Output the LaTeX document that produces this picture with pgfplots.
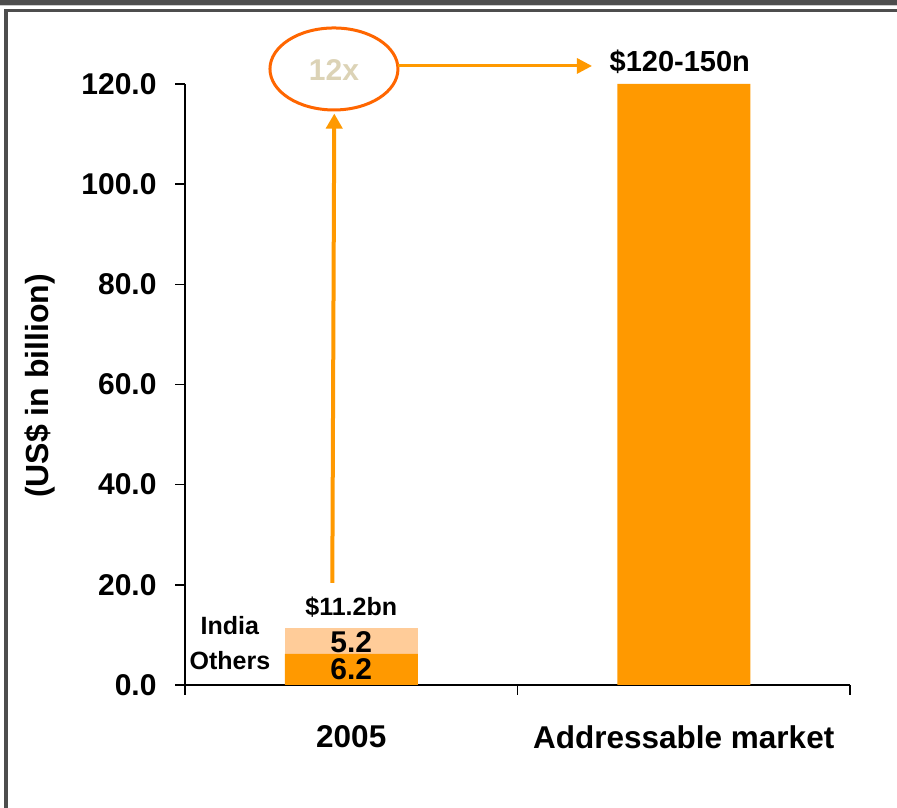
\documentclass[border=0pt]{standalone}
\usepackage{pgfplots}
\pgfplotsset{compat=1.18}
\usepackage{fontspec}
\setmainfont{Liberation Sans}
\usetikzlibrary{arrows.meta}
\definecolor{dkor}{HTML}{FF9900}
\definecolor{ltor}{HTML}{FFCC99}
\definecolor{ellor}{HTML}{FF6600}
\definecolor{tancol}{HTML}{DCD3B6}
\definecolor{framecol}{HTML}{4D4D4D}
\newcommand\fs[1]{\fontsize{#1}{#1}\selectfont\bfseries}
\begin{document}
\begin{tikzpicture}
\useasboundingbox (0,0) rectangle (897pt,808pt);
\fill[white] (0,0) rectangle (897pt,808pt);
\fill[framecol] (0,803pt) rectangle (897pt,808pt);
\fill[black!20] (0,801.5pt) rectangle (897pt,803pt);
\fill[framecol] (4pt,0) rectangle (7.5pt,799pt);
\fill[framecol] (4pt,795.5pt) rectangle (897pt,799pt);
\begin{axis}[
  at={(185pt,123pt)}, anchor=south west,
  scale only axis, width=665pt, height=601pt,
  xmin=0, xmax=2, ymin=0, ymax=120,
  axis lines=left,
  axis line style={line width=1.5pt,-},
  every tick/.style={black,line width=1.5pt},
  tick align=outside, major tick length=10pt,
  ybar stacked, bar width=133pt,
  xtick={0,1,2}, xticklabels={,,},
  extra x ticks={0.5,1.5},
  extra x tick labels={2005,Addressable market},
  extra x tick style={major tick length=0pt},
  x tick label style={font=\fs{31.5}, yshift=-37pt},
  ytick={0,20,40,60,80,100,120},
  yticklabels={0.0,20.0,40.0,60.0,80.0,100.0,120.0},
  y tick label style={font=\fs{30}, xshift=-15pt},
  clip=false,
]
\addplot[fill=dkor, draw=none] coordinates {(0.5,6.2) (1.5,120)};
\addplot[fill=ltor, draw=none] coordinates {(0.5,5.2) (1.5,0)};

\coordinate (ylab) at (axis cs:-0.436,59.7);
\coordinate (tot) at (axis cs:0.5,15.6);
\coordinate (ind) at (axis cs:0.5,8.6);
\coordinate (oth) at (axis cs:0.5,3.1);
\coordinate (indl) at (axis cs:0.135,11.8);
\coordinate (othl) at (axis cs:0.135,4.8);
\coordinate (mkt) at (axis cs:1.488,124.4);
\coordinate (ell) at (axis cs:0.448,123);
\coordinate (h1) at (axis cs:0.641,123.6);
\coordinate (h2) at (axis cs:1.224,123.6);
\coordinate (v1) at (axis cs:0.443,20.4);
\coordinate (v2) at (axis cs:0.449,114.1);
\end{axis}
\node[font=\fs{32}, rotate=90] at (ylab) {(US\$ in billion)};
\node[font=\fs{25}] at (tot) {\$11.2bn};
\node[font=\fs{30}, inner sep=0pt] at (ind) {5.2};
\node[font=\fs{30}, inner sep=0pt] at (oth) {6.2};
\node[font=\fs{25}] at (indl) {India};
\node[font=\fs{25}] at (othl) {Others};
\node[font=\fs{29}] at (mkt) {\$120-150n};
\draw[ellor, line width=3pt] (ell) ellipse [x radius=64pt, y radius=41pt];
\node[font=\fs{30}, text=tancol] at ([yshift=-1pt]ell) {12x};
\draw[dkor, line width=3pt, -{Triangle[length=15pt,width=15pt]}] (h1) -- (h2);
\draw[dkor, line width=4pt, -{Triangle[length=15pt,width=16pt]}] (v1) -- (v2);
\end{tikzpicture}
\end{document}
